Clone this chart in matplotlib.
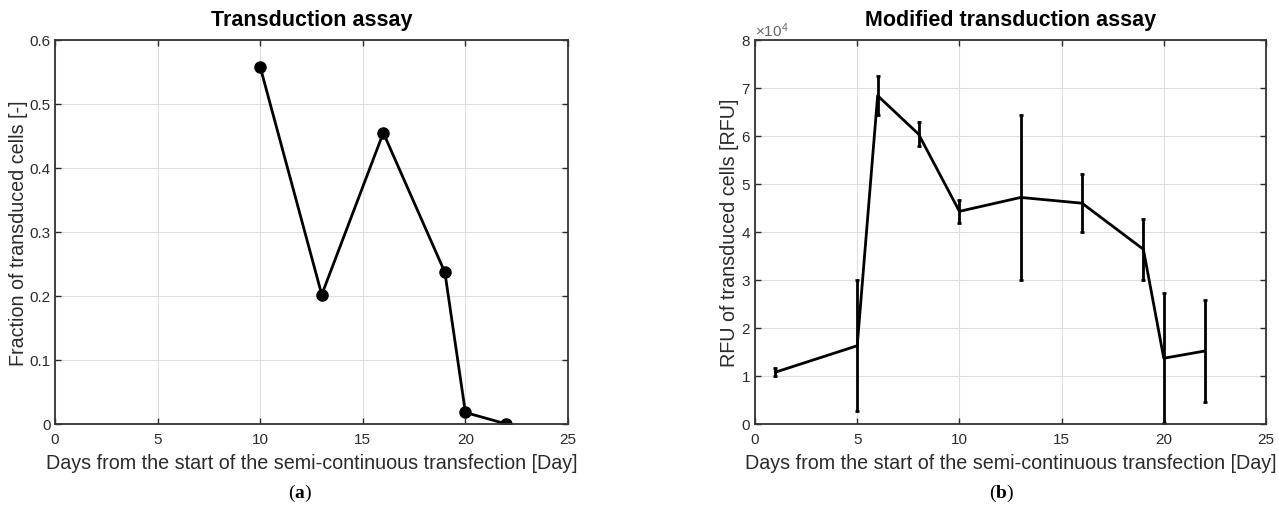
import matplotlib
matplotlib.use("Agg")
import matplotlib.pyplot as plt
import numpy as np

# panel (a): fraction of transduced cells
days_a = [10, 13, 16, 19, 20, 22]
fraction_a = [0.558, 0.202, 0.455, 0.237, 0.018, 0.0]

# panel (b): RFU of transduced cells, with error bars
days_b = [1, 5, 6, 8, 10, 13, 16, 19, 20, 22]
rfu_b = [10800, 16300, 68400, 60400, 44300, 47200, 46000, 36400, 13700, 15200]
rfu_err = [800, 13600, 4100, 2450, 2350, 17100, 6000, 6300, 13500, 10600]

xlabel = "Days from the start of the semi-continuous transfection [Day]"
txt = "#2b2b2b"

plt.rcParams["font.family"] = ["Liberation Sans", "DejaVu Sans"]
plt.rcParams["mathtext.fontset"] = "custom"
plt.rcParams["mathtext.rm"] = "Liberation Sans"
plt.rcParams["mathtext.bf"] = "Liberation Serif:bold"

fig = plt.figure(figsize=(12.79, 5.10), dpi=100)
W, H = 1279, 510
ax1 = fig.add_axes([55 / W, (H - 425) / H, 513 / W, 384 / H])
ax2 = fig.add_axes([755 / W, (H - 425) / H, 511 / W, 384 / H])


def style(ax):
    ax.set_xlim(0, 25)
    ax.set_xticks(np.arange(0, 26, 5))
    ax.grid(True, color="#dedede", lw=0.8)
    ax.set_axisbelow(True)
    ax.tick_params(direction="in", top=True, right=True, length=4,
                   width=1, labelsize=11, colors=txt, pad=3)
    ax.tick_params(axis="x", pad=6)
    for s in ax.spines.values():
        s.set_linewidth(1.3)
        s.set_color("#333333")
    ax.set_xlabel(xlabel, fontsize=14.2, color=txt, labelpad=5)


ax1.plot(days_a, fraction_a, color="black", lw=2, marker="o", ms=8)
ax1.set_ylim(0, 0.6)
ax1.set_yticks(np.arange(0, 0.61, 0.1))
ax1.set_yticklabels(["0", "0.1", "0.2", "0.3", "0.4", "0.5", "0.6"])
style(ax1)
ax1.set_ylabel("Fraction of transduced cells [-]", fontsize=14.2, color=txt,
               labelpad=1)
ax1.set_title("Transduction assay", fontsize=15.5, fontweight="bold", pad=11)

ax2.errorbar(days_b, rfu_b, yerr=rfu_err, color="black", lw=2,
             elinewidth=2, capsize=1.5, capthick=2)
ax2.set_ylim(0, 80000)
ax2.set_yticks(np.arange(0, 80001, 10000))
style(ax2)
ax2.ticklabel_format(axis="y", style="sci", scilimits=(4, 4), useMathText=True)
ax2.yaxis.get_offset_text().set_fontsize(11)
ax2.yaxis.get_offset_text().set_color("#666666")
ax2.set_ylabel("RFU of transduced cells [RFU]", fontsize=14.2, color=txt,
               labelpad=1)
ax2.set_title("Modified transduction assay", fontsize=15.5,
              fontweight="bold", pad=11)

fig.text(300 / W, 1 - 493 / H, r"($\mathbf{a}$)", ha="center", va="center",
         fontsize=14, family="Liberation Serif")
fig.text(1002 / W, 1 - 493 / H, r"($\mathbf{b}$)", ha="center", va="center",
         fontsize=14, family="Liberation Serif")

fig.savefig("out.png", dpi=100)
